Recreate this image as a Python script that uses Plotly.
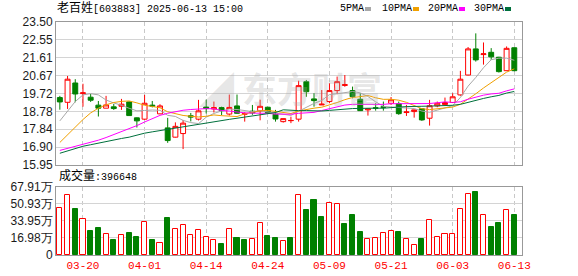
import plotly.graph_objects as go

# ---------------- data ----------------
dates = [
    "2025-03-17", "2025-03-18", "2025-03-19", "2025-03-20", "2025-03-21",
    "2025-03-24", "2025-03-25", "2025-03-26", "2025-03-27", "2025-03-28",
    "2025-03-31", "2025-04-01", "2025-04-02", "2025-04-03", "2025-04-07",
    "2025-04-08", "2025-04-09", "2025-04-10", "2025-04-11", "2025-04-14",
    "2025-04-15", "2025-04-16", "2025-04-17", "2025-04-18", "2025-04-21",
    "2025-04-22", "2025-04-23", "2025-04-24", "2025-04-25", "2025-04-28",
    "2025-04-29", "2025-04-30", "2025-05-06", "2025-05-07", "2025-05-08",
    "2025-05-09", "2025-05-12", "2025-05-13", "2025-05-14", "2025-05-15",
    "2025-05-16", "2025-05-19", "2025-05-20", "2025-05-21", "2025-05-22",
    "2025-05-23", "2025-05-26", "2025-05-27", "2025-05-28", "2025-05-29",
    "2025-05-30", "2025-06-03", "2025-06-04", "2025-06-05", "2025-06-06",
    "2025-06-09", "2025-06-10", "2025-06-11", "2025-06-12", "2025-06-13",
]

opens = [19.51, 19.26, 20.28, 19.72, 19.53, 19.11, 18.95, 19.02, 19.05, 19.28,
         18.44, 18.37, 19.11, 18.65, 17.91, 17.42, 17.61, 18.55, 18.37, 19.01,
         18.91, 18.98, 18.64, 19.07, 18.63, 18.79, 18.81, 19.00, 18.63, 18.24,
         18.29, 18.37, 20.35, 19.44, 19.12, 19.30, 19.88, 20.15, 19.88, 19.42,
         18.86, 18.97, 19.02, 19.21, 19.19, 18.72, 18.77, 18.92, 18.42, 19.07,
         19.14, 19.25, 19.65, 20.70, 22.08, 21.78, 21.90, 21.64, 20.93, 22.14]
highs = [19.60, 20.65, 20.48, 20.24, 19.70, 19.33, 19.60, 19.17, 19.44, 19.30,
         18.46, 19.65, 19.33, 19.16, 18.44, 18.20, 18.33, 18.70, 19.39, 19.40,
         19.30, 19.03, 19.67, 19.67, 18.74, 19.12, 19.40, 19.02, 18.86, 18.41,
         18.50, 20.40, 20.44, 19.74, 19.91, 20.27, 20.62, 20.70, 20.09, 19.74,
         18.92, 19.21, 19.30, 19.54, 19.30, 19.12, 18.87, 18.95, 19.39, 19.30,
         19.51, 19.74, 20.92, 22.18, 22.90, 22.42, 22.12, 21.66, 22.21, 22.16]
lows = [18.87, 18.91, 19.26, 19.03, 19.28, 18.51, 18.95, 18.86, 18.86, 18.55,
        17.93, 18.33, 18.99, 18.64, 17.12, 17.40, 16.79, 18.25, 18.30, 18.67,
        18.72, 18.58, 18.56, 18.66, 18.24, 18.60, 18.31, 18.68, 18.24, 18.19,
        18.16, 18.24, 19.55, 19.03, 19.12, 19.21, 19.69, 20.08, 19.47, 18.80,
        18.56, 18.82, 18.82, 19.12, 18.60, 18.54, 18.45, 18.28, 18.03, 19.00,
        19.10, 19.22, 19.61, 20.68, 21.41, 21.25, 21.50, 20.83, 20.93, 20.90]
closes = [19.28, 20.48, 19.70, 19.76, 19.37, 18.95, 19.12, 18.93, 19.16, 18.56,
          18.28, 19.21, 19.06, 19.07, 17.24, 17.99, 18.16, 18.48, 18.81, 18.93,
          18.98, 18.82, 18.99, 18.68, 18.66, 18.70, 19.05, 18.71, 18.38, 18.40,
          18.30, 20.14, 19.82, 19.35, 19.16, 19.88, 20.35, 20.19, 19.56, 18.82,
          18.91, 18.95, 19.00, 19.39, 18.66, 18.75, 18.86, 18.33, 19.08, 19.21,
          19.25, 19.55, 20.48, 22.08, 21.50, 21.82, 21.66, 20.88, 22.11, 20.93]

# volume in 万 (10k lots)
volumes = [47.3, 59.5, 45.6, 35.4, 23.8, 26.8, 20.5, 14.9, 19.5, 21.8,
           17.8, 32.7, 14.9, 11.9, 36.7, 25.4, 29.4, 19.5, 24.4, 17.5,
           14.5, 10.9, 25.4, 16.8, 14.9, 15.5, 31.4, 18.8, 16.8, 13.9,
           16.8, 60.1, 44.6, 54.5, 37.7, 52.2, 50.5, 30.7, 39.6, 22.8,
           15.5, 16.5, 21.5, 23.5, 22.8, 15.5, 9.6, 15.9, 34.4, 17.5,
           20.5, 20.5, 46.2, 61.1, 63.4, 40.3, 27.7, 31.7, 45.3, 39.6648]
# volume bar colour as drawn (1 = red hollow, 0 = green filled)
vol_up = [1, 1, 0, 1, 0, 0, 1, 0, 1, 0,
          0, 1, 0, 1, 0, 1, 1, 1, 1, 1,
          1, 0, 1, 0, 0, 1, 1, 0, 0, 1,
          0, 1, 0, 0, 0, 1, 1, 0, 0, 0,
          1, 1, 1, 1, 0, 1, 1, 0, 1, 1,
          1, 1, 1, 1, 0, 1, 0, 0, 1, 0]

# moving-average values before each window is complete
ma5_head = [18.28, 18.77, 19.30, 19.65]
ma10_head = [17.14, 17.55, 17.98, 18.35, 18.70, 18.95, 19.13, 19.25, 19.31]
ma20_head = [16.72, 16.82, 16.93, 17.03, 17.14, 17.26, 17.40, 17.55, 17.70, 17.86,
             18.03, 18.22, 18.40, 18.57, 18.68, 18.78, 18.84, 18.88, 18.91]
ma30_head = [16.57, 16.70, 16.82, 16.94, 17.02, 17.11, 17.19, 17.27, 17.35, 17.42,
             17.53, 17.63, 17.70, 17.77, 17.83, 17.90, 17.97, 18.03, 18.10, 18.16,
             18.23, 18.29, 18.36, 18.42, 18.48, 18.54, 18.60, 18.65, 18.72]

price_ticks = [15.95, 16.90, 17.84, 18.78, 19.72, 20.67, 21.61, 22.55, 23.50]
price_labels = ["15.95", "16.90", "17.84", "18.78", "19.72", "20.67", "21.61", "22.55", "23.50"]
vol_ticks = [0, 16.98, 33.95, 50.93, 67.91]
vol_labels = ["0", "16.98万", "33.95万", "50.93万", "67.91万"]
date_ticks = ["2025-03-20", "2025-04-01", "2025-04-14", "2025-04-24",
              "2025-05-09", "2025-05-21", "2025-06-03", "2025-06-13"]
date_labels = ["03-20", "04-01", "04-14", "04-24", "05-09", "05-21", "06-03", "06-13"]

title_name = "老百姓"
title_rest = "[603883] 2025-06-13 15:00"
ma_names = ["5PMA", "10PMA", "20PMA", "30PMA"]
ma_colors = ["#a8a8a8", "#f0a000", "#ff00ff", "#00703c"]

# ---------------- helpers ----------------
def moving_average(n, head):
    out = list(head)
    for i in range(len(head), len(closes)):
        out.append(sum(closes[i - n + 1:i + 1]) / n)
    return out

ma_series = [moving_average(5, ma5_head), moving_average(10, ma10_head),
             moving_average(20, ma20_head), moving_average(30, ma30_head)]

W_, H_ = 578, 276
L, R, T, B = 56, 522, 22, 255
PW, PH = R - L, B - T

def px(x):
    return (x - L) / PW

def py(y):
    return (B - y) / PH

RED = "#ff0000"
GREEN = "#008000"

fig = go.Figure()

fig.add_trace(go.Candlestick(
    x=dates, open=opens, high=highs, low=lows, close=closes,
    increasing=dict(line=dict(color=RED, width=1), fillcolor="#ffffff"),
    decreasing=dict(line=dict(color=GREEN, width=1), fillcolor=GREEN),
    whiskerwidth=0, hoverinfo="skip", xaxis="x", yaxis="y",
))

for name, col, ser in zip(ma_names, ma_colors, ma_series):
    fig.add_trace(go.Scatter(x=dates, y=ser, mode="lines", name=name,
                             line=dict(color=col, width=1), hoverinfo="skip",
                             xaxis="x", yaxis="y"))

fig.add_trace(go.Bar(
    x=dates, y=volumes, width=0.66,
    marker=dict(color=["#ffffff" if u else GREEN for u in vol_up],
                line=dict(color=[RED if u else GREEN for u in vol_up], width=1)),
    hoverinfo="skip", xaxis="x2", yaxis="y2",
))

xr = [-0.5, len(dates)]
frame = "#999999"
grid = "#d4d4d4"
tickfont = dict(family="Liberation Sans, Arial", size=12, color="#1a1a1a")
monofont = dict(family="Liberation Mono, Noto Sans CJK SC", size=10, color="#000000")

fig.update_layout(
    width=W_, height=H_,
    margin=dict(l=L, r=W_ - R, t=T, b=H_ - B, pad=0, autoexpand=False),
    paper_bgcolor="#ffffff", plot_bgcolor="#ffffff",
    showlegend=False,
    boxgap=0.36, boxgroupgap=0,
    bargap=0,
    xaxis=dict(type="category", range=xr, domain=[0, 1], anchor="y", automargin=False,
               tickvals=date_ticks, ticktext=date_labels, showticklabels=False,
               showgrid=True, gridcolor="#c8c8c8", griddash="4px,3px", gridwidth=1,
               showline=True, linecolor=frame, mirror=True, ticks="",
               rangeslider=dict(visible=False), fixedrange=True),
    yaxis=dict(range=[price_ticks[0], price_ticks[-1]], domain=[py(165), 1], automargin=False,
               tickvals=price_ticks, ticktext=price_labels, tickfont=tickfont,
               showgrid=True, gridcolor=grid, zeroline=False,
               showline=True, linecolor=frame, mirror=True, ticks=""),
    xaxis2=dict(type="category", range=xr, domain=[0, 1], anchor="y2", matches="x",
                automargin=False, tickvals=date_ticks, ticktext=date_labels,
                tickfont=dict(family="Liberation Mono", size=11, color=RED),
                showgrid=True, gridcolor="#c8c8c8", griddash="4px,3px", gridwidth=1,
                showline=True, linecolor=frame, mirror=True, ticks=""),
    yaxis2=dict(range=[-0.25, vol_ticks[-1]], domain=[0, py(187)], automargin=False,
                tickvals=vol_ticks, ticktext=vol_labels, tickfont=tickfont,
                showgrid=True, gridcolor=grid, zeroline=False,
                showline=True, linecolor=frame, mirror=True, ticks=""),
)

ann = []
ann.append(dict(xref="paper", yref="paper", x=px(55), y=py(9), xanchor="left", yanchor="middle",
                text='<span style="font-size:12px">%s</span>%s' % (title_name, title_rest),
                showarrow=False, font=monofont))
leg_x = [338, 380, 426, 472]
sq_x = [365, 413, 459, 505]
shapes = []
for name, col, lx, sx in zip(ma_names, ma_colors, leg_x, sq_x):
    ann.append(dict(xref="paper", yref="paper", x=px(lx), y=py(9), xanchor="left", yanchor="middle",
                    text=name, showarrow=False, font=monofont))
    shapes.append(dict(type="rect", xref="paper", yref="paper",
                       x0=px(sx), x1=px(sx + 6), y0=py(11), y1=py(7),
                       fillcolor=col, line=dict(width=0)))
last_vol = int(round(volumes[-1] * 10000))
ann.append(dict(xref="paper", yref="paper", x=px(57), y=py(176), xanchor="left", yanchor="middle",
                text='<span style="font-size:12px">成交量</span>:%d' % last_vol,
                showarrow=False, font=monofont))
ann.append(dict(xref="paper", yref="paper", x=px(290), y=py(87), xanchor="center", yanchor="middle",
                text="<b>◢ 东方财富</b>", showarrow=False,
                font=dict(family="Noto Sans CJK SC", size=35, color="rgba(170,170,170,0.30)")))
fig.update_layout(annotations=ann, shapes=shapes)

fig.write_html("out.html")
